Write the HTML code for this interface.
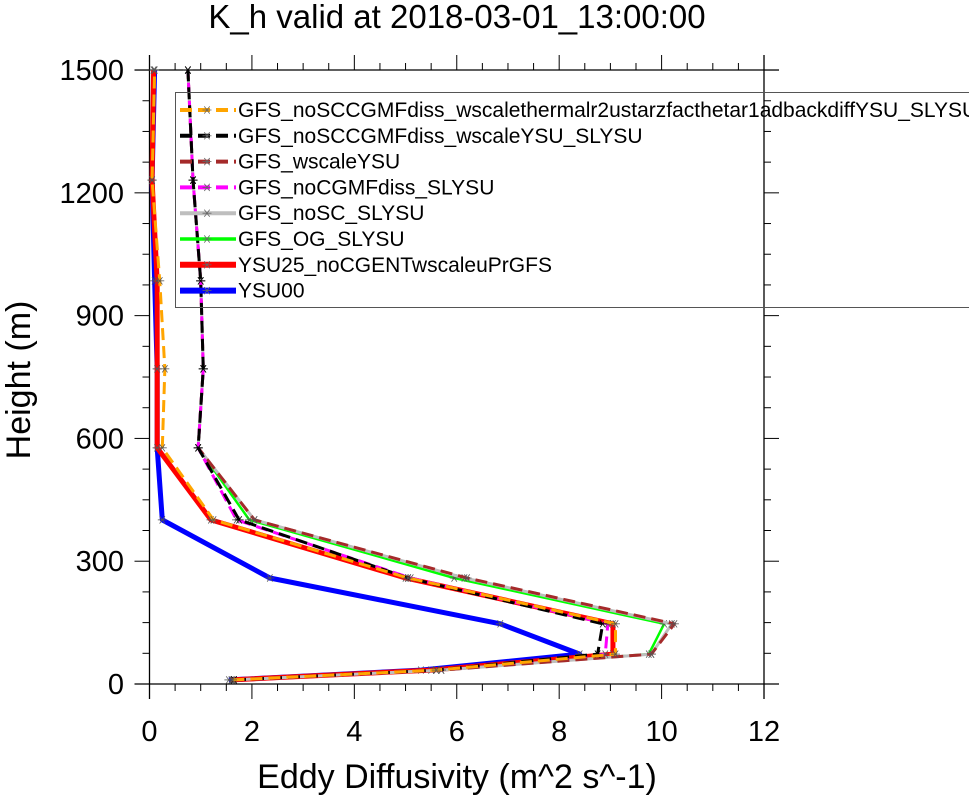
<!DOCTYPE html>
<html><head><meta charset="utf-8"><style>
body{margin:0;background:#fff;width:969px;height:796px;overflow:hidden}
svg{display:block;font-family:"Liberation Sans",sans-serif}
</style></head><body>
<svg id="c" width="969" height="796">
<text x="457" y="28" text-anchor="middle" font-size="33">K_h valid at 2018-03-01_13:00:00</text>
<text x="457" y="788" text-anchor="middle" font-size="34">Eddy Diffusivity (m^2 s^-1)</text>
<text transform="translate(30,380) rotate(-90)" text-anchor="middle" font-size="34">Height (m)</text>
<g id="axes"></g><g id="series"></g><g id="legend"></g>
</svg>
<script>
const heights=[10,34,73,147,259,401,577,770,985,1231,1500];
const seriesNames=["GFS_noSCCGMFdiss_wscalethermalr2ustarzfacthetar1adbackdiffYSU_SLYSU","GFS_noSCCGMFdiss_wscaleYSU_SLYSU","GFS_wscaleYSU","GFS_noCGMFdiss_SLYSU","GFS_noSC_SLYSU","GFS_OG_SLYSU","YSU25_noCGENTwscaleuPrGFS","YSU00"];
const orangeVals=[1.62,5.6,9.1,9.1,5.05,1.25,0.25,0.3,0.2,0.05,0.1];
const blackVals=[1.65,5.6,8.75,8.85,5.05,1.75,0.95,1.05,1.0,0.85,0.75];
const brownVals=[1.65,5.7,9.8,10.25,6.2,2.05,0.95,1.05,1.0,0.85,0.75];
const magentaVals=[1.65,5.6,8.9,8.95,5.1,1.7,0.95,1.05,1.0,0.85,0.75];
const grayVals=[1.65,5.7,9.8,10.2,6.15,2.05,0.95,1.05,1.0,0.85,0.75];
const greenVals=[1.65,5.7,9.75,10.05,5.95,1.95,0.95,1.05,1.0,0.85,0.75];
const redVals=[1.6,5.5,9.05,9.05,5.0,1.2,0.15,0.15,0.15,0.05,0.08];
const blueVals=[1.55,5.3,8.4,6.85,2.35,0.25,0.15,0.15,0.1,0.05,0.1];
const xTicks=[0,2,4,6,8,10,12];
const yTicks=[0,300,600,900,1200,1500];
const NS="http://www.w3.org/2000/svg";
const X=v=>149.5+v*51.21, Y=v=>684-v*0.4093;
function mk(tag,attrs,parent){const e=document.createElementNS(NS,tag);for(const k in attrs)e.setAttribute(k,attrs[k]);parent.appendChild(e);return e;}
const ax=document.getElementById('axes');
const L=149.5,R=764,T=70,B=684;
let a;
a=mk('line',{x1:L,y1:T-15,x2:L,y2:B+15,stroke:'#000','stroke-width':1.3},ax);

a=mk('line',{x1:R,y1:T-15,x2:R,y2:B+15,stroke:'#000','stroke-width':1.3},ax);

a=mk('line',{x1:L-15,y1:T,x2:R+15,y2:T,stroke:'#000','stroke-width':1.3},ax);

a=mk('line',{x1:L-15,y1:B,x2:R+15,y2:B,stroke:'#000','stroke-width':1.3},ax);

for(let v=0;v<=12.001;v+=0.5){const x=X(v);const maj=Math.abs(v%2)<1e-6;const len=maj?15:7;
 mk('line',{x1:x,y1:B,x2:x,y2:B+len,stroke:'#000'},ax);mk('line',{x1:x,y1:T,x2:x,y2:T-len,stroke:'#000'},ax);}
for(let v=0;v<=1500;v+=75){const y=Y(v);const maj=v%300===0;const len=maj?15:7;
 mk('line',{x1:L,y1:y,x2:L-len,y2:y,stroke:'#000'},ax);mk('line',{x1:R,y1:y,x2:R+len,y2:y,stroke:'#000'},ax);}
xTicks.forEach(v=>{const t=mk('text',{x:X(v),y:741,'text-anchor':'middle','font-size':29},ax);t.textContent=v;
 });
yTicks.forEach(v=>{const t=mk('text',{x:124,y:Y(v)+10,'text-anchor':'end','font-size':29},ax);t.textContent=v;
 });
const styles=[
 {vals:orangeVals,c:'#ffa500',w:3,d:'12 6'},
 {vals:blackVals,c:'#000',w:3,d:'12 6'},
 {vals:brownVals,c:'#a52a2a',w:3,d:'12 6'},
 {vals:magentaVals,c:'#ff00ff',w:3,d:'12 6'},
 {vals:grayVals,c:'#bebebe',w:3,d:''},
 {vals:greenVals,c:'#00ff00',w:2.5,d:''},
 {vals:redVals,c:'#ff0000',w:5,d:''},
 {vals:blueVals,c:'#0000ff',w:5,d:''}];
const sg=document.getElementById('series');
const order=[7,6,5,4,2,3,1,0];
function star(g,x,y,col){const s=4.5;
 mk('line',{x1:x-s,y1:y,x2:x+s,y2:y,stroke:col,'stroke-width':0.8},g);
 mk('line',{x1:x-s*.6,y1:y-s*.8,x2:x+s*.6,y2:y+s*.8,stroke:col,'stroke-width':0.8},g);
 mk('line',{x1:x-s*.6,y1:y+s*.8,x2:x+s*.6,y2:y-s*.8,stroke:col,'stroke-width':0.8},g);}
order.forEach(i=>{const st=styles[i];
 const g=mk('g',{},sg);
 
 
 const pts=st.vals.map((v,k)=>X(v)+','+Y(heights[k])).join(' ');
 mk('polyline',{points:pts,fill:'none',stroke:st.c,'stroke-width':st.w,'stroke-dasharray':st.d,'stroke-linejoin':'round'},g);
 st.vals.forEach((v,k)=>star(g,X(v),Y(heights[k]),i===1?'#000':'#555'));});
const lg=document.getElementById('legend');
const box=mk('rect',{x:175.5,y:92.5,width:800,height:215,fill:'none',stroke:'#555','stroke-width':1},lg);

seriesNames.forEach((n,i)=>{const st=styles[i];const y=110+i*25.8;
 const g=mk('g',{},lg);
 
 
 mk('line',{x1:180,y1:y,x2:236,y2:y,stroke:st.c,'stroke-width':st.w+1,'stroke-dasharray':st.d},g);
 star(g,207,y,'#666');
 const t=mk('text',{x:238,y:y+7,'font-size':21},g);t.textContent=n;});
</script>
</body></html>
